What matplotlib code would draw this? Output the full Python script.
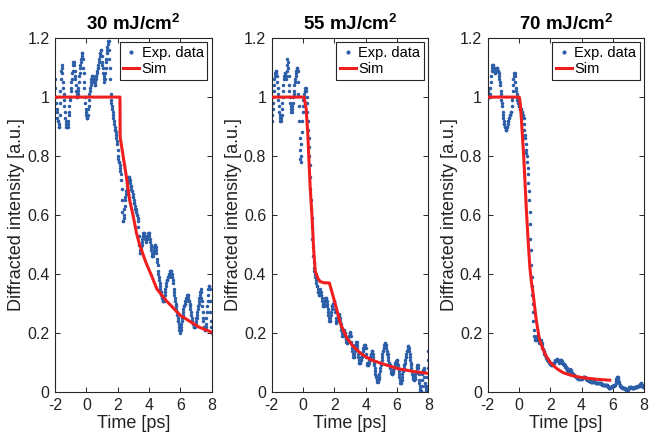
import numpy as np
import matplotlib
matplotlib.use("Agg")
import matplotlib.pyplot as plt
from matplotlib.lines import Line2D

plt.rcParams['font.family'] = ['Liberation Sans', 'DejaVu Sans']
plt.rcParams['mathtext.fontset'] = 'custom'
plt.rcParams['mathtext.rm'] = 'Liberation Sans'
plt.rcParams['mathtext.bf'] = 'Liberation Sans:bold'
plt.rcParams['axes.unicode_minus'] = False

# ---------------- data ----------------
titles = [r"30 mJ/cm$^{\mathbf{2}}$", r"55 mJ/cm$^{\mathbf{2}}$", r"70 mJ/cm$^{\mathbf{2}}$"]
t_start, t_end = -2.0, 8.0   # experimental time window (ps), sampled every 0.025 ps

exp_30 = [
    1.06, 1.03, 1.00, 0.98, 0.96, 0.95, 0.93, 0.92, 0.92, 0.91, 0.90, 0.90, 0.94, 0.98, 1.02, 1.06, 1.09, 1.11, 1.10, 1.08,
    1.05, 1.03, 1.01, 0.99, 0.97, 0.95, 0.93, 0.92, 0.91, 0.90, 0.90, 0.90, 0.90, 0.91, 0.92, 0.94, 0.95, 0.97, 0.99, 1.00,
    1.02, 1.03, 1.05, 1.06, 1.08, 1.09, 1.11, 1.12, 1.12, 1.11, 1.09, 1.07, 1.06, 1.04, 1.02, 1.01, 1.00, 1.00, 1.01, 1.02,
    1.03, 1.05, 1.07, 1.08, 1.10, 1.11, 1.12, 1.13, 1.14, 1.15, 1.15, 1.13, 1.10, 1.08, 1.05, 1.03, 1.00, 0.98, 0.96, 0.95,
    0.94, 0.93, 0.93, 0.93, 0.94, 0.96, 0.97, 0.99, 1.01, 1.02, 1.03, 1.04, 1.05, 1.06, 1.07, 1.07, 1.07, 1.06, 1.06, 1.05,
    1.05, 1.04, 1.04, 1.05, 1.06, 1.07, 1.07, 1.08, 1.09, 1.10, 1.10, 1.11, 1.12, 1.13, 1.14, 1.15, 1.15, 1.16, 1.16, 1.14,
    1.12, 1.11, 1.10, 1.08, 1.07, 1.06, 1.05, 1.06, 1.08, 1.10, 1.12, 1.13, 1.15, 1.16, 1.17, 1.18, 1.19, 1.19, 1.16, 1.13,
    1.10, 1.06, 1.01, 0.99, 0.98, 0.97, 0.96, 0.95, 0.94, 0.93, 0.92, 0.91, 0.90, 0.89, 0.89, 0.88, 0.87, 0.86, 0.85, 0.84,
    0.82, 0.80, 0.79, 0.78, 0.78, 0.77, 0.76, 0.75, 0.74, 0.72, 0.69, 0.65, 0.61, 0.58, 0.58, 0.59, 0.60, 0.62, 0.63, 0.65,
    0.66, 0.67, 0.68, 0.69, 0.70, 0.71, 0.72, 0.73, 0.73, 0.73, 0.72, 0.72, 0.71, 0.70, 0.70, 0.69, 0.68, 0.68, 0.67, 0.66,
    0.66, 0.65, 0.64, 0.64, 0.63, 0.62, 0.62, 0.61, 0.61, 0.60, 0.60, 0.59, 0.58, 0.56, 0.53, 0.50, 0.48, 0.47, 0.47, 0.48,
    0.49, 0.50, 0.51, 0.52, 0.53, 0.53, 0.54, 0.54, 0.54, 0.53, 0.53, 0.52, 0.52, 0.51, 0.52, 0.52, 0.53, 0.53, 0.54, 0.54,
    0.54, 0.53, 0.52, 0.51, 0.50, 0.49, 0.48, 0.47, 0.46, 0.46, 0.46, 0.47, 0.47, 0.48, 0.49, 0.50, 0.50, 0.49, 0.48, 0.47,
    0.45, 0.44, 0.43, 0.41, 0.40, 0.39, 0.38, 0.37, 0.36, 0.35, 0.34, 0.34, 0.33, 0.32, 0.32, 0.31, 0.31, 0.31, 0.31, 0.32,
    0.33, 0.34, 0.35, 0.36, 0.37, 0.38, 0.38, 0.38, 0.39, 0.39, 0.39, 0.40, 0.40, 0.40, 0.41, 0.41, 0.41, 0.41, 0.40, 0.39,
    0.39, 0.38, 0.37, 0.35, 0.34, 0.33, 0.32, 0.31, 0.30, 0.29, 0.28, 0.27, 0.26, 0.25, 0.24, 0.24, 0.23, 0.22, 0.21, 0.21,
    0.20, 0.21, 0.22, 0.23, 0.24, 0.25, 0.26, 0.27, 0.28, 0.29, 0.29, 0.30, 0.30, 0.31, 0.31, 0.32, 0.32, 0.32, 0.33, 0.33,
    0.33, 0.32, 0.31, 0.31, 0.30, 0.29, 0.28, 0.27, 0.26, 0.25, 0.24, 0.24, 0.23, 0.23, 0.22, 0.22, 0.22, 0.22, 0.23, 0.23,
    0.24, 0.25, 0.25, 0.26, 0.27, 0.28, 0.29, 0.30, 0.31, 0.32, 0.33, 0.34, 0.35, 0.34, 0.32, 0.31, 0.29, 0.27, 0.25, 0.24,
    0.22, 0.22, 0.21, 0.21, 0.21, 0.22, 0.23, 0.25, 0.27, 0.29, 0.31, 0.33, 0.35, 0.36, 0.36, 0.35, 0.31, 0.27, 0.24, 0.22,
    0.20,
]

exp_55 = [
    0.92, 0.94, 0.96, 0.98, 1.00, 1.02, 1.04, 1.06, 1.07, 1.08, 1.09, 1.09, 1.08, 1.07, 1.05, 1.03, 1.01, 0.99, 0.97, 0.95,
    0.94, 0.93, 0.92, 0.92, 0.93, 0.94, 0.96, 0.98, 1.00, 1.02, 1.04, 1.06, 1.07, 1.08, 1.08, 1.07, 1.06, 1.07, 1.09, 1.11,
    1.13, 1.12, 1.10, 1.07, 1.04, 1.02, 1.00, 0.98, 0.97, 0.96, 0.95, 0.95, 0.96, 0.97, 0.98, 1.00, 1.01, 1.02, 1.04, 1.05,
    1.06, 1.07, 1.08, 1.09, 1.10, 1.10, 1.09, 1.05, 1.01, 0.97, 0.92, 0.86, 0.82, 0.79, 0.78, 0.80, 0.84, 0.88, 0.92, 0.95,
    0.97, 0.99, 1.00, 1.01, 1.02, 1.02, 1.03, 1.03, 1.02, 1.00, 0.98, 0.95, 0.92, 0.89, 0.86, 0.83, 0.80, 0.77, 0.73, 0.69,
    0.65, 0.62, 0.59, 0.56, 0.52, 0.49, 0.46, 0.44, 0.42, 0.41, 0.40, 0.39, 0.39, 0.38, 0.37, 0.36, 0.36, 0.35, 0.34, 0.34,
    0.33, 0.33, 0.34, 0.34, 0.35, 0.34, 0.33, 0.33, 0.32, 0.31, 0.30, 0.29, 0.29, 0.29, 0.30, 0.31, 0.31, 0.32, 0.32, 0.32,
    0.31, 0.30, 0.29, 0.28, 0.27, 0.26, 0.25, 0.24, 0.24, 0.24, 0.25, 0.26, 0.27, 0.28, 0.29, 0.29, 0.30, 0.30, 0.31, 0.31,
    0.30, 0.28, 0.27, 0.25, 0.24, 0.235, 0.24, 0.24, 0.25, 0.26, 0.26, 0.265, 0.26, 0.26, 0.25, 0.24, 0.23, 0.22, 0.21, 0.20,
    0.19, 0.19, 0.20, 0.20, 0.21, 0.21, 0.20, 0.20, 0.19, 0.18, 0.18, 0.17, 0.165, 0.165, 0.17, 0.17, 0.18, 0.19, 0.19, 0.20,
    0.205, 0.20, 0.19, 0.17, 0.16, 0.15, 0.14, 0.13, 0.12, 0.12, 0.12, 0.13, 0.14, 0.15, 0.16, 0.16, 0.17, 0.17, 0.16, 0.15,
    0.13, 0.12, 0.11, 0.10, 0.10, 0.10, 0.10, 0.11, 0.11, 0.12, 0.12, 0.13, 0.14, 0.14, 0.15, 0.15, 0.15, 0.16, 0.16, 0.16,
    0.15, 0.13, 0.12, 0.10, 0.09, 0.09, 0.09, 0.10, 0.10, 0.11, 0.11, 0.12, 0.12, 0.13, 0.13, 0.14, 0.14, 0.14, 0.13, 0.12,
    0.11, 0.10, 0.09, 0.08, 0.07, 0.06, 0.055, 0.05, 0.045, 0.04, 0.035, 0.035, 0.04, 0.045, 0.05, 0.06, 0.07, 0.08, 0.09, 0.10,
    0.10, 0.11, 0.12, 0.13, 0.14, 0.14, 0.15, 0.15, 0.16, 0.165, 0.165, 0.16, 0.16, 0.15, 0.14, 0.13, 0.13, 0.12, 0.11, 0.10,
    0.10, 0.09, 0.09, 0.08, 0.07, 0.065, 0.06, 0.06, 0.06, 0.065, 0.07, 0.075, 0.08, 0.085, 0.09, 0.095, 0.10, 0.10, 0.105, 0.11,
    0.11, 0.10, 0.09, 0.08, 0.07, 0.06, 0.05, 0.04, 0.03, 0.03, 0.03, 0.04, 0.04, 0.05, 0.06, 0.07, 0.07, 0.08, 0.09, 0.09,
    0.10, 0.11, 0.12, 0.12, 0.13, 0.14, 0.14, 0.15, 0.155, 0.155, 0.15, 0.14, 0.13, 0.12, 0.11, 0.10, 0.09, 0.08, 0.07, 0.06,
    0.055, 0.05, 0.045, 0.04, 0.04, 0.045, 0.05, 0.06, 0.065, 0.07, 0.08, 0.085, 0.09, 0.09, 0.08, 0.06, 0.04, 0.03, 0.02, 0.01,
    0.005, 0.005, 0.005, 0.02, 0.04, 0.06, 0.07, 0.075, 0.08, 0.07, 0.05, 0.03, 0.02, 0.01, 0.005, 0.00, 0.02, 0.05, 0.08, 0.11,
    0.14,
]

exp_70 = [
    1.03, 1.02, 1.01, 1.00, 1.00, 1.00, 1.01, 1.03, 1.05, 1.07, 1.09, 1.10, 1.11, 1.11, 1.11, 1.10, 1.10, 1.09, 1.09, 1.08,
    1.08, 1.09, 1.09, 1.10, 1.10, 1.10, 1.09, 1.09, 1.08, 1.07, 1.06, 1.05, 1.04, 1.02, 1.01, 0.99, 0.98, 0.97, 0.95, 0.94,
    0.93, 0.92, 0.91, 0.91, 0.90, 0.90, 0.89, 0.89, 0.89, 0.90, 0.90, 0.91, 0.92, 0.92, 0.93, 0.93, 0.94, 0.94, 0.94, 0.95,
    0.95, 0.97, 0.99, 1.00, 1.02, 1.04, 1.06, 1.07, 1.08, 1.08, 1.07, 1.05, 1.03, 1.02, 1.01, 1.00, 0.99, 0.98, 0.98, 0.97,
    0.97, 0.97, 0.96, 0.96, 0.96, 0.96, 0.95, 0.95, 0.95, 0.94, 0.94, 0.93, 0.93, 0.91, 0.89, 0.87, 0.86, 0.84, 0.82, 0.81,
    0.80, 0.78, 0.76, 0.74, 0.71, 0.68, 0.65, 0.61, 0.57, 0.52, 0.48, 0.43, 0.39, 0.36, 0.33, 0.30, 0.27, 0.24, 0.21, 0.19,
    0.185, 0.18, 0.175, 0.175, 0.175, 0.18, 0.185, 0.19, 0.19, 0.185, 0.18, 0.17, 0.165, 0.165, 0.17, 0.17, 0.175, 0.17, 0.165, 0.16,
    0.15, 0.145, 0.145, 0.14, 0.135, 0.13, 0.13, 0.125, 0.12, 0.12, 0.115, 0.115, 0.11, 0.11, 0.11, 0.105, 0.105, 0.10, 0.10, 0.10,
    0.095, 0.095, 0.09, 0.09, 0.09, 0.09, 0.095, 0.095, 0.10, 0.10, 0.10, 0.105, 0.105, 0.11, 0.11, 0.11, 0.113, 0.113, 0.11, 0.11,
    0.105, 0.105, 0.105, 0.10, 0.105, 0.105, 0.11, 0.11, 0.11, 0.105, 0.10, 0.10, 0.10, 0.095, 0.095, 0.09, 0.09, 0.09, 0.085, 0.085,
    0.085, 0.08, 0.08, 0.075, 0.075, 0.07, 0.07, 0.07, 0.072, 0.075, 0.075, 0.078, 0.075, 0.07, 0.068, 0.065, 0.062, 0.06, 0.06, 0.058,
    0.058, 0.056, 0.055, 0.055, 0.054, 0.052, 0.05, 0.05, 0.048, 0.047, 0.046, 0.046, 0.045, 0.045, 0.045, 0.046, 0.046, 0.045, 0.045, 0.045,
    0.045, 0.046, 0.048, 0.05, 0.05, 0.052, 0.052, 0.052, 0.052, 0.05, 0.048, 0.046, 0.045, 0.044, 0.042, 0.041, 0.04, 0.04, 0.038, 0.037,
    0.037, 0.036, 0.036, 0.035, 0.035, 0.035, 0.034, 0.034, 0.035, 0.035, 0.036, 0.036, 0.035, 0.035, 0.034, 0.033, 0.032, 0.032, 0.031, 0.031,
    0.03, 0.03, 0.031, 0.031, 0.03, 0.03, 0.03, 0.03, 0.03, 0.029, 0.028, 0.027, 0.026, 0.025, 0.024, 0.024, 0.024, 0.024, 0.025, 0.025,
    0.025, 0.025, 0.025, 0.025, 0.025, 0.023, 0.021, 0.019, 0.017, 0.015, 0.014, 0.014, 0.014, 0.015, 0.016, 0.017, 0.018, 0.019, 0.02, 0.02,
    0.02, 0.021, 0.022, 0.023, 0.024, 0.024, 0.025, 0.03, 0.038, 0.045, 0.05, 0.052, 0.052, 0.048, 0.042, 0.035, 0.03, 0.025, 0.022, 0.02,
    0.018, 0.017, 0.016, 0.016, 0.015, 0.014, 0.014, 0.013, 0.013, 0.012, 0.012, 0.011, 0.01, 0.009, 0.008, 0.007, 0.007, 0.007, 0.008, 0.01,
    0.012, 0.014, 0.016, 0.017, 0.018, 0.018, 0.017, 0.016, 0.015, 0.014, 0.013, 0.013, 0.013, 0.014, 0.015, 0.016, 0.017, 0.017, 0.018, 0.018,
    0.018, 0.018, 0.019, 0.019, 0.02, 0.02, 0.02, 0.02, 0.02, 0.023, 0.026, 0.029, 0.03, 0.028, 0.025, 0.021, 0.018, 0.018, 0.02, 0.022,
    0.025,
]

sim_30_t = [-2.0, 2.15, 2.16, 2.35, 2.56, 2.77, 3.0, 3.2, 3.4, 3.8, 4.2, 4.5, 5.1, 6.0, 7.2, 8.0]
sim_30_v = [1.0, 1.0, 0.865, 0.80, 0.73, 0.65, 0.595, 0.54, 0.50, 0.44, 0.39, 0.35, 0.31, 0.26, 0.22, 0.203]

sim_55_t = [-2.0, 0.07, 0.2, 0.3, 0.45, 0.58, 0.68, 0.78, 0.95, 1.1, 1.4, 1.68, 2.0, 2.4, 2.8, 3.2, 3.7, 4.3, 5.0, 6.0, 7.0, 8.0]
sim_55_v = [1.0, 1.0, 0.96, 0.88, 0.70, 0.59, 0.48, 0.41, 0.385, 0.374, 0.37, 0.37, 0.31, 0.23, 0.183, 0.155, 0.13, 0.11, 0.097, 0.08, 0.07, 0.063]

sim_70_t = [-2.0, 0.02, 0.08, 0.15, 0.3, 0.49, 0.6, 0.7, 0.8, 0.9, 1.0, 1.1, 1.3, 1.5, 1.7, 2.0, 2.4, 2.8, 3.3, 4.0, 5.0, 5.8]
sim_70_v = [1.0, 1.0, 0.98, 0.93, 0.80, 0.60, 0.50, 0.42, 0.37, 0.335, 0.29, 0.245, 0.18, 0.15, 0.125, 0.10, 0.08, 0.066, 0.057, 0.049, 0.043, 0.04]

exp_sets = [exp_30, exp_55, exp_70]
sim_sets = [(sim_30_t, sim_30_v), (sim_55_t, sim_55_v), (sim_70_t, sim_70_v)]

x_ticks = [-2, 0, 2, 4, 6, 8]
y_ticks = [0, 0.2, 0.4, 0.6, 0.8, 1.0, 1.2]
y_ticklabels = ["0", "0.2", "0.4", "0.6", "0.8", "1", "1.2"]

# ---------------- style ----------------
BLUE = "#2c5ea8"
RED = "#f01e1e"
AXC = "#262626"

fig = plt.figure(figsize=(6.51, 4.38), dpi=100)
lefts = [0.0845, 0.4174, 0.7491]
width, bottom, height = 0.2405, 0.105, 0.808

for i in range(3):
    ax = fig.add_axes([lefts[i], bottom, width, height])
    vals = exp_sets[i]
    t = np.linspace(t_start, t_end, len(vals))
    ax.plot(t, vals, linestyle='none', marker='.', markersize=3.0,
            color=BLUE, label='Exp. data', clip_on=True, zorder=2)
    st, sv = sim_sets[i]
    ax.plot(st, sv, color=RED, linewidth=2.2, label='Sim', zorder=3)

    ax.set_xlim(-2, 8)
    ax.set_ylim(0, 1.2)
    ax.set_xticks(x_ticks)
    ax.set_xticklabels([str(v) for v in x_ticks])
    ax.set_yticks(y_ticks)
    ax.set_yticklabels(y_ticklabels)
    ax.tick_params(direction='in', length=3.5, width=0.7, color=AXC,
                   labelsize=11.5, labelcolor='#222222', top=True, right=True, pad=4)
    for s in ax.spines.values():
        s.set_color(AXC)
        s.set_linewidth(0.8)
    ax.set_xlabel('Time [ps]', fontsize=13, color='#222222', labelpad=2)
    ax.set_ylabel('Diffracted intensity [a.u.]', fontsize=13, color='#222222', labelpad=1.5)
    ax.set_title(titles[i], fontsize=13.5, fontweight='bold', pad=6)

    handles = [Line2D([], [], linestyle='none', marker='.', markersize=4, color=BLUE),
               Line2D([], [], color=RED, linewidth=2.2)]
    leg = ax.legend(handles, ['Exp. data', 'Sim'], loc='upper right', fontsize=10.5,
                    frameon=True, fancybox=False, framealpha=1, edgecolor=AXC,
                    handlelength=1.1, handletextpad=0.15, borderpad=0.25,
                    labelspacing=0.15, borderaxespad=0.3, numpoints=1)
    leg.get_frame().set_linewidth(0.8)

fig.savefig('out.png', dpi=100)
